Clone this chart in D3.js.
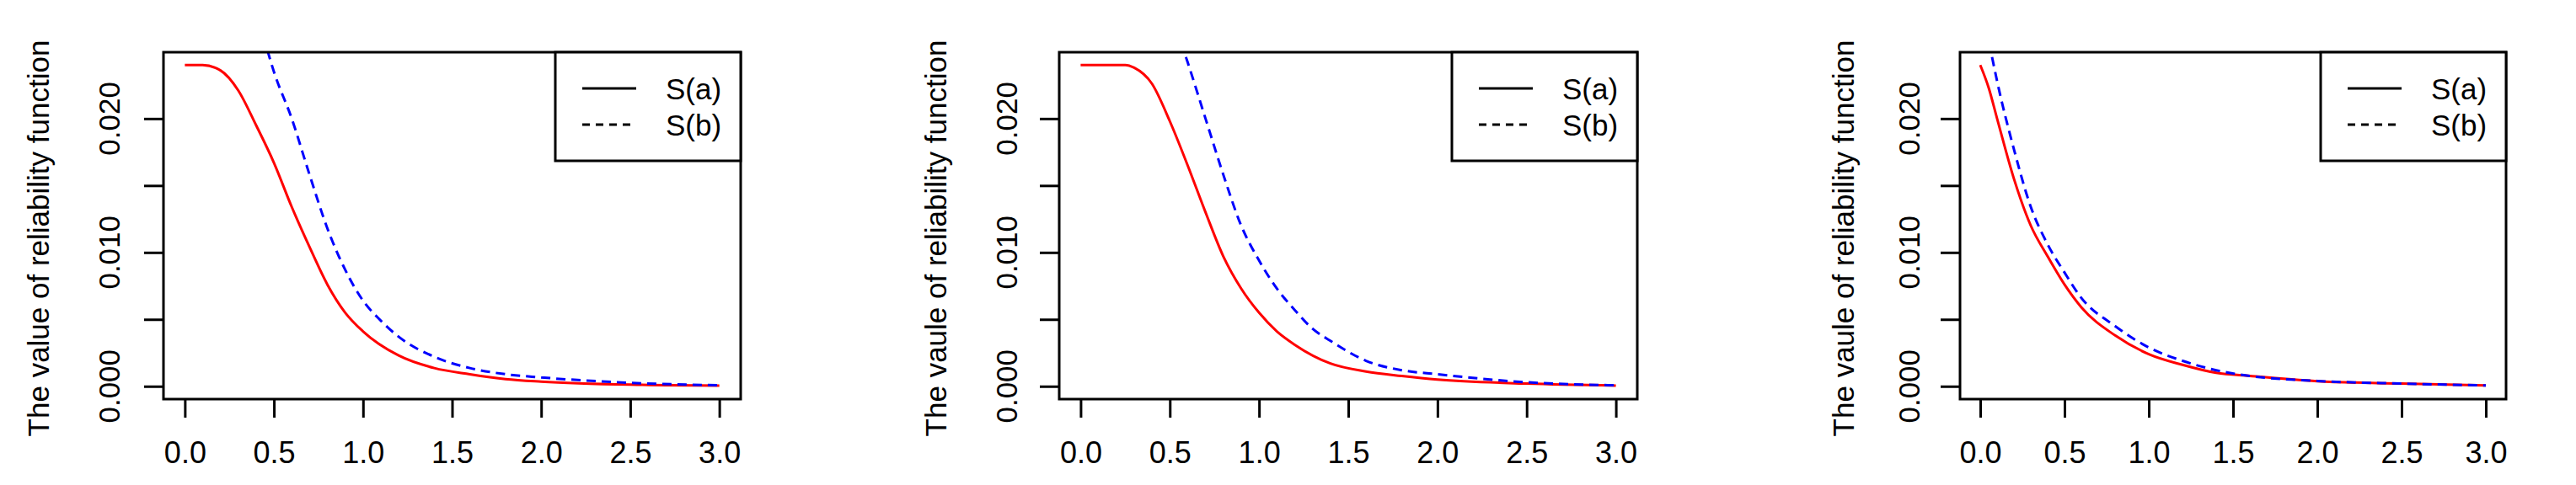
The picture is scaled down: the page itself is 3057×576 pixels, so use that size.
<!DOCTYPE html>
<html>
<head>
<meta charset="UTF-8">
<script src="https://d3js.org/d3.v7.min.js"></script>
<style>
  body { margin: 0; background: #fff; }
  text { font-family: "Liberation Sans", Arial, sans-serif; fill: #000; }
  .narrow { font-family: "Liberation Sans Narrow", "Liberation Sans", Arial, sans-serif; }
</style>
</head>
<body>
<svg id="chart" width="3057" height="576"></svg>
<script>
// tick labels
const xTicks = [0, 0.5, 1, 1.5, 2, 2.5, 3];
const yTicks = [0, 0.005, 0.01, 0.015, 0.02];
const yLabels = ["0.000", "", "0.010", "", "0.020"];
const legendNames = ["S(a)", "S(b)"];
const yTitles = ["The value of reliability function", "The vaule of reliability function", "The vaule of reliability function"];

// panel 1
const p1aX = [0, 0.1, 0.2, 0.3, 0.4, 0.5, 0.6, 0.7, 0.8, 0.9, 1.0, 1.2, 1.4, 1.6, 1.8, 2.0, 2.5, 3.0];
const p1aY = [0.024, 0.024, 0.0236, 0.0221, 0.0195, 0.0167, 0.0134, 0.0104, 0.0076, 0.0055, 0.0041, 0.0023, 0.00136, 0.0009, 0.00054, 0.00035, 0.00012, 0.00005];
const p1bX = [0.44, 0.5, 0.6, 0.7, 0.8, 0.9, 1.0, 1.1, 1.2, 1.4, 1.6, 1.8, 2.0, 2.5, 3.0];
const p1bY = [0.0262, 0.0235, 0.020, 0.0158, 0.0118, 0.0087, 0.0064, 0.0049, 0.0037, 0.0022, 0.00136, 0.0009, 0.00066, 0.00026, 0.00007];
// panel 2
const p2aX = [0, 0.1, 0.2, 0.25, 0.3, 0.4, 0.5, 0.6, 0.7, 0.8, 0.9, 1.0, 1.1, 1.2, 1.4, 1.6, 1.8, 2.0, 2.5, 3.0];
const p2aY = [0.024, 0.024, 0.024, 0.024, 0.0238, 0.0226, 0.0198, 0.0165, 0.0130, 0.0097, 0.0073, 0.0055, 0.0041, 0.0031, 0.0017, 0.0011, 0.00077, 0.0005, 0.0002, 0.00005];
const p2bX = [0.59, 0.6, 0.7, 0.8, 0.9, 1.0, 1.1, 1.2, 1.3, 1.4, 1.6, 1.8, 2.0, 2.5, 3.0];
const p2bY = [0.0246, 0.0242, 0.020, 0.0158, 0.012, 0.0094, 0.0073, 0.0057, 0.0043, 0.0034, 0.0019, 0.0012, 0.0009, 0.0003, 0.00007];
// panel 3
const p3aX = [0, 0.05, 0.1, 0.2, 0.3, 0.4, 0.5, 0.6, 0.8, 1.0, 1.2, 1.4, 1.6, 2.0, 2.5, 3.0];
const p3aY = [0.024, 0.0223, 0.020, 0.0155, 0.012, 0.0097, 0.0076, 0.0059, 0.0038, 0.0024, 0.0016, 0.001, 0.00077, 0.00038, 0.0002, 0.00006];
const p3bX = [0.07, 0.1, 0.2, 0.3, 0.4, 0.5, 0.6, 0.8, 1.0, 1.2, 1.4, 1.6, 2.0, 2.5, 3.0];
const p3bY = [0.0246, 0.0228, 0.0177, 0.0134, 0.0106, 0.0085, 0.0066, 0.0045, 0.0029, 0.0019, 0.0012, 0.00077, 0.0004, 0.0002, 0.00006];

const panels = [
  {left: 194, right: 879, title: yTitles[0], titleX: 45, labX: 129, a: [p1aX, p1aY], b: [p1bX, p1bY]},
  {left: 1257, right: 1943, title: yTitles[1], titleX: 1110, labX: 1194, a: [p2aX, p2aY], b: [p2bX, p2bY]},
  {left: 2326, right: 2974, title: yTitles[2], titleX: 2187, labX: 2265, a: [p3aX, p3aY], b: [p3bX, p3bY]}
];
const plotTop = 62, plotBottom = 474;
const svg = d3.select("#chart");

panels.forEach((p, i) => {
  // R style 4% extension on both axes
  const x = d3.scaleLinear().domain([-0.12, 3.12]).range([p.left, p.right]);
  const y = d3.scaleLinear().domain([-0.00096, 0.02496]).range([plotBottom, plotTop]);
  const g = svg.append("g");

  g.append("clipPath").attr("id", "clip" + i)
    .append("rect").attr("x", p.left).attr("y", plotTop)
    .attr("width", p.right - p.left).attr("height", plotBottom - plotTop);

  const line = d3.line().x(d => x(d[0])).y(d => y(d[1])).curve(d3.curveMonotoneX);
  const curve = (s, color, dash) => g.append("path")
    .attr("d", line(s[0].map((v, k) => [v, s[1][k]])))
    .attr("fill", "none").attr("stroke", color).attr("stroke-width", 3)
    .attr("stroke-dasharray", dash).attr("clip-path", `url(#clip${i})`);
  curve(p.a, "#ff0000", null);
  curve(p.b, "#0000ff", "11,7");

  // box
  g.append("rect").attr("x", p.left).attr("y", plotTop)
    .attr("width", p.right - p.left).attr("height", plotBottom - plotTop)
    .attr("fill", "none").attr("stroke", "#000").attr("stroke-width", 3);

  // x axis
  const xAxis = g.append("g").attr("transform", `translate(0,${plotBottom})`)
    .call(d3.axisBottom(x).tickValues(xTicks).tickSize(22).tickSizeOuter(0).tickFormat(d3.format(".1f")));
  xAxis.select(".domain").remove();
  xAxis.selectAll("line").attr("stroke-width", 3);
  xAxis.selectAll("text").attr("class", "narrow").attr("font-size", 36).attr("dy", "0").attr("y", 76).style("fill", "#000");

  // y axis
  const yAxis = g.append("g").attr("transform", `translate(${p.left},0)`)
    .call(d3.axisLeft(y).tickValues(yTicks).tickSize(23).tickSizeOuter(0).tickFormat(""));
  yAxis.select(".domain").remove();
  yAxis.selectAll("line").attr("stroke-width", 3);
  yTicks.forEach((t, k) => {
    if (!yLabels[k]) return;
    g.append("text").attr("transform", `translate(${p.labX},${y(t)}) rotate(-90)`)
      .attr("text-anchor", "middle").attr("dy", "0.36em").attr("font-size", 35).text(yLabels[k]);
  });

  g.append("text").attr("transform", `translate(${p.titleX},${(plotTop + plotBottom) / 2 + 15}) rotate(-90)`)
    .attr("text-anchor", "middle").attr("dy", "0.36em").attr("font-size", 35).text(p.title);

  // legend
  const lx = p.right - 220;
  g.append("rect").attr("x", lx).attr("y", plotTop).attr("width", 220).attr("height", 191 - plotTop)
    .attr("fill", "#fff").attr("stroke", "#000").attr("stroke-width", 3);
  legendNames.forEach((n, k) => {
    const ly = 105 + k * 43;
    g.append("line").attr("x1", lx + 32).attr("x2", lx + 96).attr("y1", ly).attr("y2", ly)
      .attr("stroke", "#000").attr("stroke-width", 3).attr("stroke-dasharray", k ? "9,7" : null);
    g.append("text").attr("class", "narrow").attr("x", lx + 131).attr("y", ly).attr("dy", "0.36em")
      .attr("font-size", 35).text(n);
  });
});
</script>
</body>
</html>
